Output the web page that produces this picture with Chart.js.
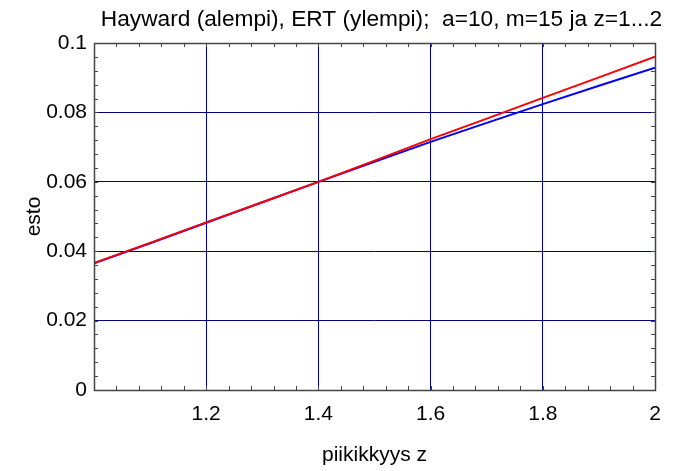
<!DOCTYPE html>
<html>
<head>
<meta charset="utf-8">
<script src="https://cdn.jsdelivr.net/npm/chart.js@4"></script>
<style>
  html, body { margin: 0; padding: 0; background: #fff; }
  #wrap { width: 678px; height: 471px; }
</style>
</head>
<body>
<div id="wrap"><canvas id="mycanvas" width="678" height="471"></canvas></div>
<script>
// z values and esto curves
var zvals    = [1.0, 1.1, 1.2, 1.3, 1.4, 1.5, 1.6, 1.7, 1.8, 1.9, 2.0];
var ert      = [0.0366, 0.0424, 0.0483, 0.0541, 0.0600, 0.0661, 0.0723, 0.0782, 0.0842, 0.0901, 0.0961];
var hayward  = [0.0365, 0.0423, 0.0482, 0.0541, 0.0600, 0.0658, 0.0715, 0.0770, 0.0824, 0.0877, 0.0929];
var xTicks   = [1.2, 1.4, 1.6, 1.8, 2];
var yTicks   = [0, 0.02, 0.04, 0.06, 0.08, 0.1];
var titleText = 'Hayward (alempi), ERT (ylempi);  a=10, m=15 ja z=1...2';

function pts(ys) {
    var out = [];
    for (var i in zvals) { out.push({x: zvals[i], y: ys[i]}); }
    return out;
}

var FONT = 'Liberation Sans, Arial, sans-serif';
var NAVY = '#000080';

// frame round the plot plus the small inward ticks on every side
var framePlugin = {
    id: 'frame',
    afterLayout: function(chart) {
        // title sits right of the canvas centre in the original
        var t = chart.titleBlock;
        if (t) { t.left += 54; t.right += 54; }
    },
    afterDatasetsDraw: function(chart) {
        var ctx = chart.ctx, a = chart.chartArea;
        var xs = chart.scales.x, ys = chart.scales.y;
        ctx.save();
        ctx.strokeStyle = '#444';
        ctx.lineWidth = 1;
        ctx.beginPath();
        for (var k = 1; k < 25; k++) {
            var v = 1 + k * 0.04;
            var px = Math.round(xs.getPixelForValue(v)) + 0.5;
            ctx.moveTo(px, a.bottom); ctx.lineTo(px, a.bottom - 4);
            ctx.moveTo(px, a.top); ctx.lineTo(px, a.top + 4);
        }
        for (var j = 1; j < 25; j++) {
            var w = j * 0.004;
            var py = Math.round(ys.getPixelForValue(w)) + 0.5;
            ctx.moveTo(a.left, py); ctx.lineTo(a.left + 4, py);
            ctx.moveTo(a.right, py); ctx.lineTo(a.right - 4, py);
        }
        ctx.stroke();
        ctx.lineWidth = 1.5;
        ctx.strokeRect(Math.round(a.left) + 0.5, Math.round(a.top) + 0.5,
                       Math.round(a.right - a.left), Math.round(a.bottom - a.top));
        ctx.restore();
    }
};

var ctx = document.getElementById('mycanvas');
var LineGraph = new Chart(ctx, {
    type: 'line',
    data: {
        datasets: [
            {
                label: 'ERT',
                data: pts(ert),
                borderColor: '#ff0000',
                backgroundColor: '#ff0000',
                borderWidth: 2,
                pointRadius: 0,
                fill: false,
                tension: 0
            },
            {
                label: 'Hayward',
                data: pts(hayward),
                borderColor: '#0000ff',
                backgroundColor: '#0000ff',
                borderWidth: 2,
                pointRadius: 0,
                fill: false,
                tension: 0
            }
        ]
    },
    plugins: [framePlugin],
    options: {
        responsive: false,
        animation: false,
        layout: { padding: { left: 0, right: 23, top: 0, bottom: 0 } },
        plugins: {
            legend: { display: false },
            tooltip: { enabled: false },
            title: {
                display: true,
                text: titleText,
                color: '#000',
                font: { family: FONT, size: 22.7, weight: 'normal' },
                padding: { top: 6, bottom: 9.8 }
            }
        },
        scales: {
            x: {
                type: 'linear',
                min: 1,
                max: 2,
                afterFit: function(s) { s.height = 81; },
                afterBuildTicks: function(s) {
                    s.ticks = xTicks.map(function(v) { return {value: v}; });
                },
                ticks: {
                    color: '#000',
                    padding: 12,
                    maxRotation: 0,
                    font: { family: FONT, size: 21 },
                    callback: function(v) { return String(v); }
                },
                grid: {
                    drawTicks: false,
                    color: function(c) {
                        var v = c.tick ? c.tick.value : 0;
                        return (v <= 1 || v >= 2) ? 'rgba(0,0,0,0)' : NAVY;
                    },
                    lineWidth: 1
                },
                border: { display: false },
                title: {
                    display: true,
                    text: 'piikikkyys z',
                    color: '#000',
                    font: { family: FONT, size: 21 },
                    padding: { top: 0, bottom: 3 }
                }
            },
            y: {
                type: 'linear',
                min: 0,
                max: 0.1,
                afterFit: function(s) { s.width = 94; },
                afterBuildTicks: function(s) {
                    s.ticks = yTicks.map(function(v) { return {value: v}; });
                },
                ticks: {
                    color: '#000',
                    padding: 7,
                    font: { family: FONT, size: 21 },
                    callback: function(v) { return String(Math.round(v * 1000) / 1000); }
                },
                grid: {
                    drawTicks: false,
                    color: function(c) {
                        var v = c.tick ? c.tick.value : 0;
                        return (v <= 0.0001 || v >= 0.0999) ? 'rgba(0,0,0,0)' : NAVY;
                    },
                    lineWidth: 1
                },
                border: { display: false },
                title: {
                    display: true,
                    text: 'esto',
                    color: '#000',
                    font: { family: FONT, size: 21 },
                    padding: { top: 22, bottom: 0 }
                }
            }
        }
    }
});
</script>
</body>
</html>
